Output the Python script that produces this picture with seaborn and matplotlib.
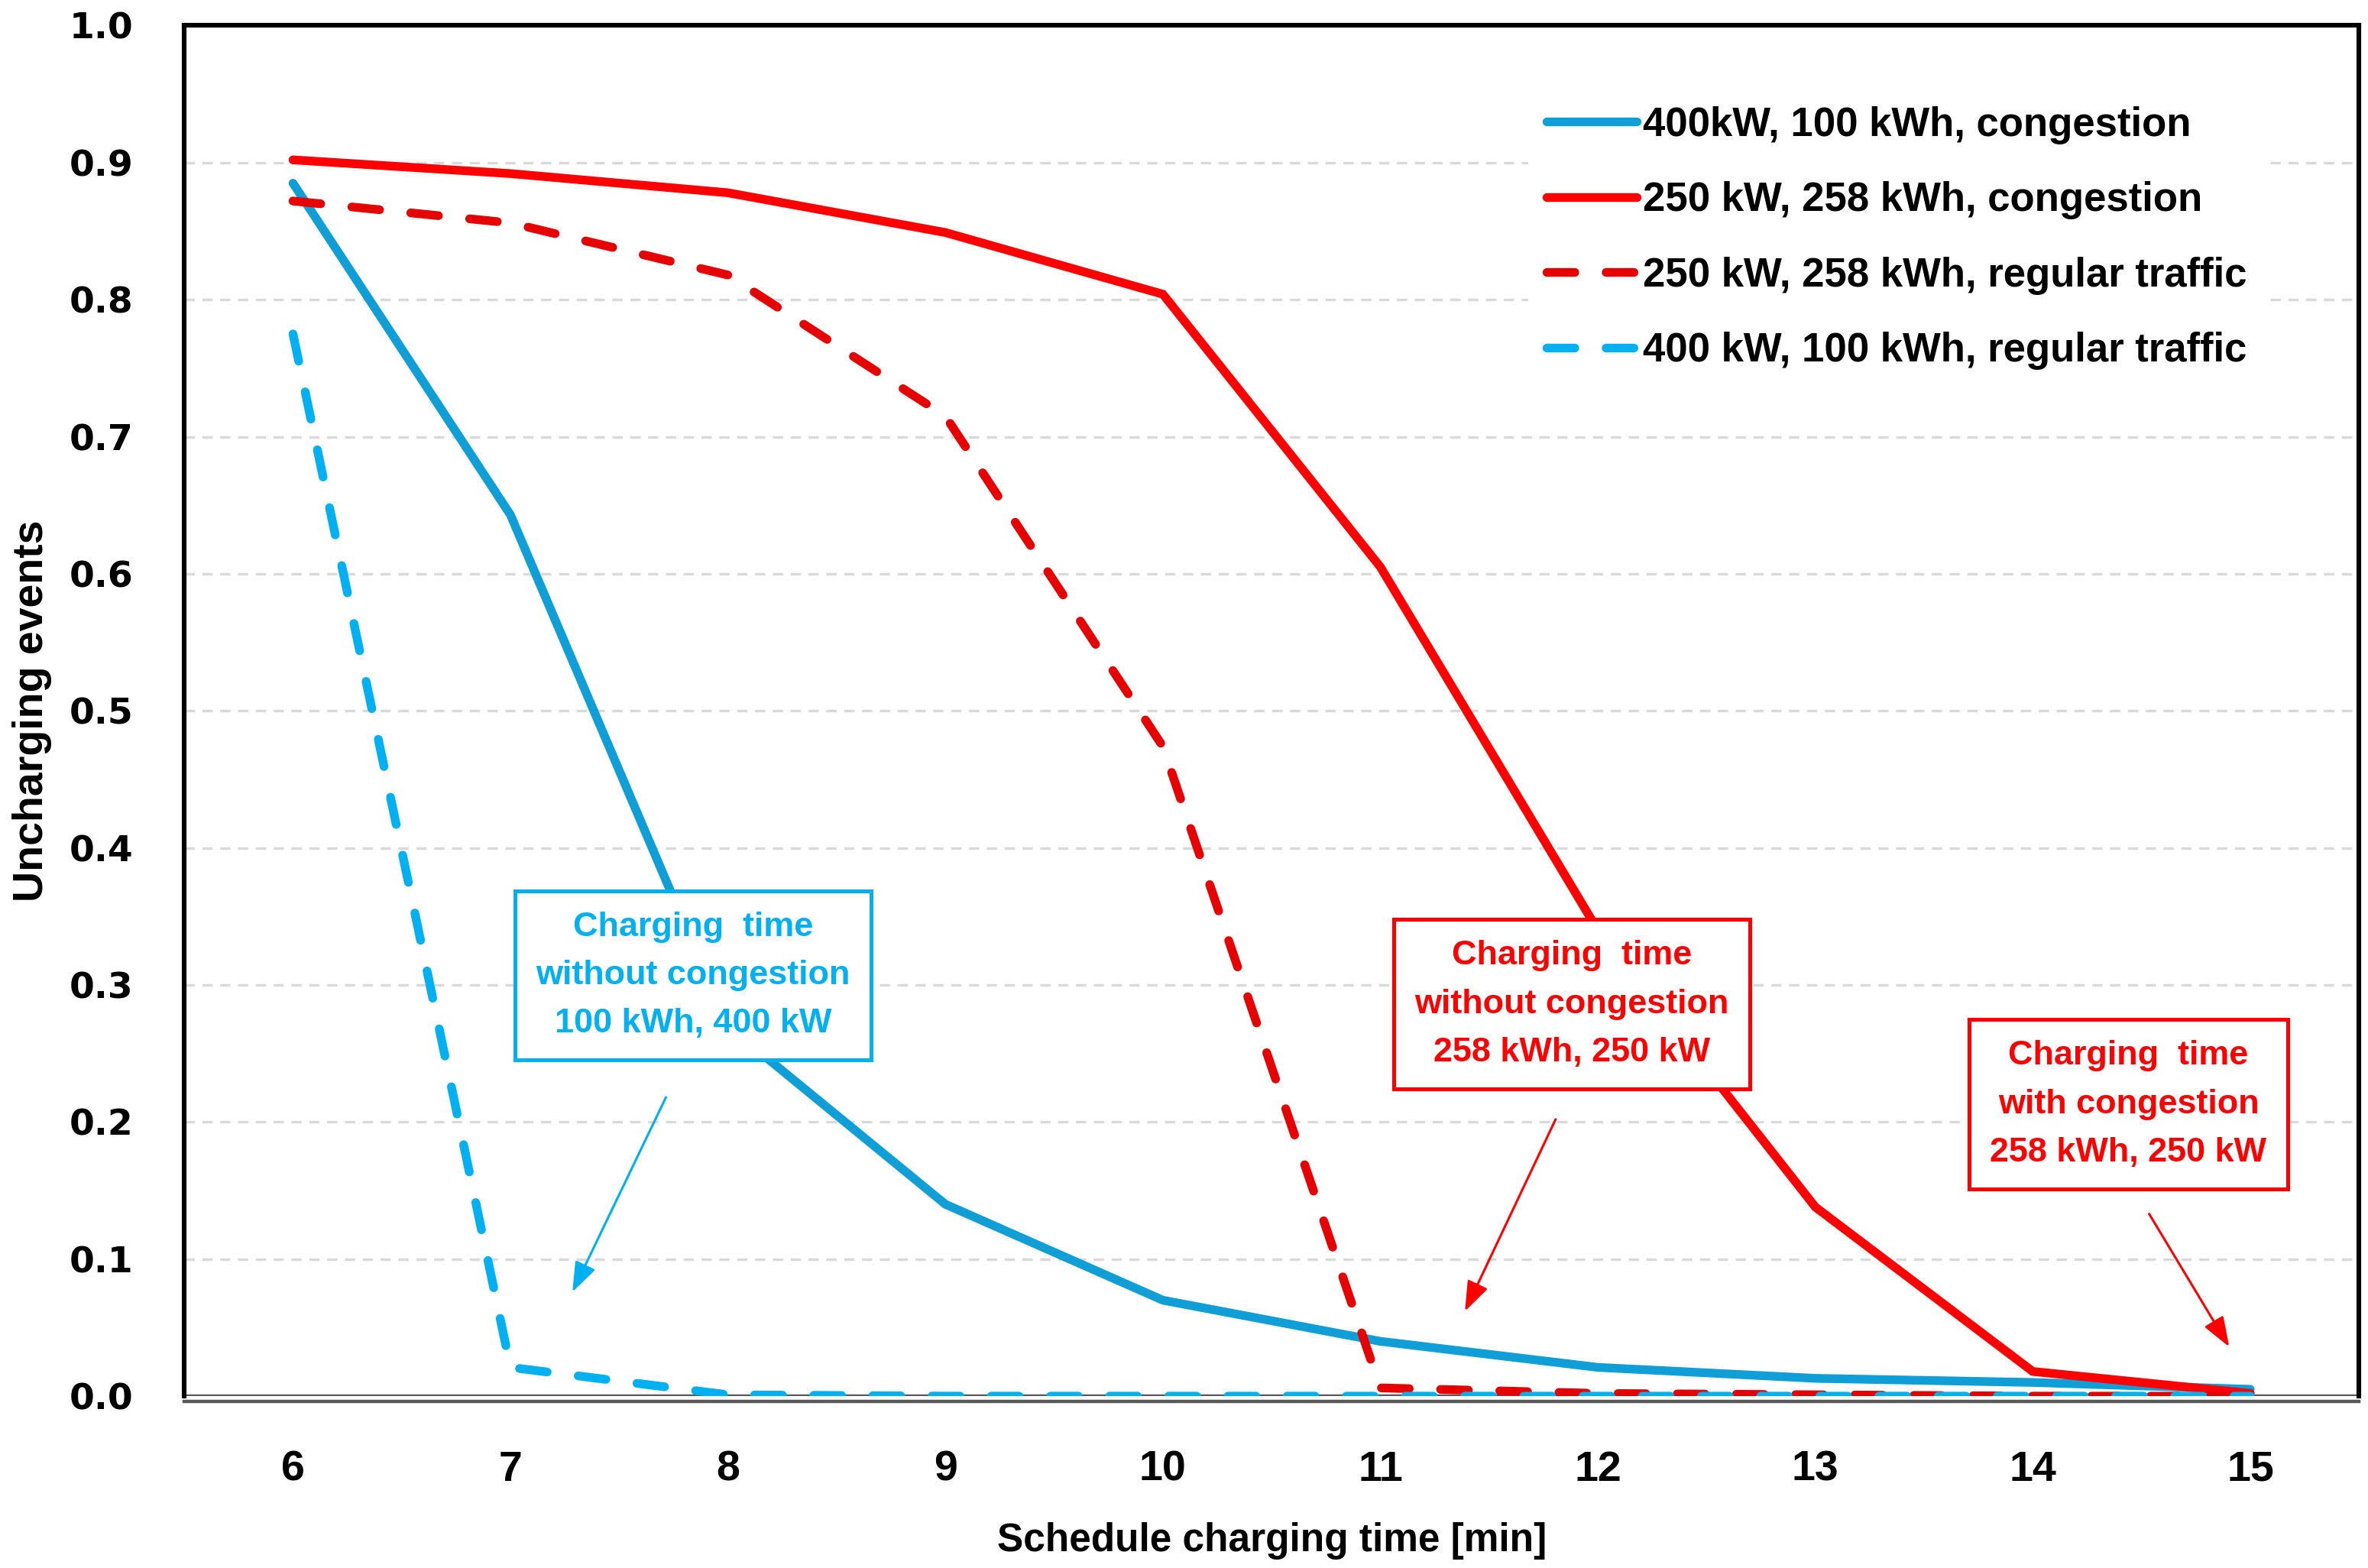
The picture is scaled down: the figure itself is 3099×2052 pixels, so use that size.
import matplotlib
matplotlib.use("Agg")
import pandas as pd
import matplotlib.pyplot as plt
import seaborn as sns

# ─────────────────────────────
#  DATA
# ─────────────────────────────
sched_time = [6, 7, 8, 9, 10, 11, 12, 13, 14, 15]

blue_cong = [0.885, 0.643, 0.270, 0.140, 0.070, 0.040, 0.021, 0.013, 0.010, 0.005]
red_cong  = [0.902, 0.892, 0.878, 0.849, 0.804, 0.605, 0.340, 0.138, 0.018, 0.002]
red_reg   = [0.872, 0.856, 0.818, 0.715, 0.474, 0.006, 0.002, 0.001, 0.000, 0.000]
blue_reg  = [0.775, 0.021, 0.001, 0.000, 0.000, 0.000, 0.000, 0.000, 0.000, 0.000]

labels = ["400kW, 100 kWh, congestion",
          "250 kW, 258 kWh, congestion",
          "250 kW, 258 kWh, regular traffic",
          "400 kW, 100 kWh, regular traffic"]

y_ticks = [0.0, 0.1, 0.2, 0.3, 0.4, 0.5, 0.6, 0.7, 0.8, 0.9, 1.0]

# ─────────────────────────────
#  STYLE
# ─────────────────────────────
sns.set_theme(style="white")
plt.rcParams["font.family"] = ["Liberation Sans", "DejaVu Sans"]
plt.rcParams["text.color"] = "black"
plt.rcParams["axes.labelcolor"] = "black"
plt.rcParams["xtick.color"] = "black"
plt.rcParams["ytick.color"] = "black"

BLUE   = "#0F9ED5"
LBLUE  = "#00B0F0"
RED    = "#FF0000"
DRED   = "#E60000"
LW     = 4.1
DASH   = (0, (3.2, 3.6))

styles = [(BLUE, "-"), (RED, "-"), (DRED, DASH), (LBLUE, DASH)]
values = [blue_cong, red_cong, red_reg, blue_reg]

fig = plt.figure(figsize=(15.495, 10.26), dpi=200)
ax = fig.add_axes([0.0778, 0.1096, 0.9184, 0.8741])

for vals, (col, ls), lab in zip(values, styles, labels):
    df = pd.DataFrame({"t": sched_time, "v": vals})
    sns.lineplot(data=df, x="t", y="v", ax=ax, color=col, lw=LW, label=lab, zorder=3)
    ln = ax.lines[-1]
    ln.set_linestyle(ls)
    ln.set_dash_capstyle("round")
    ln.set_solid_capstyle("round")
    ln.set_solid_joinstyle("miter")

# axes frame (spine position first: it resets the ticks)
for side in ["left", "top", "right"]:
    ax.spines[side].set_color("black")
    ax.spines[side].set_linewidth(2.2)
ax.spines["bottom"].set_color("#595959")
ax.spines["bottom"].set_linewidth(1.6)
ax.spines["bottom"].set_position(("outward", 2.5))
ax.axhline(0, color="#595959", lw=1.6, zorder=2)

ax.set_xlim(5.5, 15.5)
ax.set_ylim(0, 1.0)
ax.set_xticks(sched_time)
ax.set_yticks(y_ticks)
ax.set_yticklabels([f"{v:.1f}" for v in y_ticks],
                   fontfamily="DejaVu Sans", fontweight="bold", fontsize=17)
ax.set_xticklabels([str(t) for t in sched_time],
                   fontfamily="Liberation Sans", fontweight="bold", fontsize=20)
ax.tick_params(axis="both", length=0)
ax.tick_params(axis="y", pad=24)
ax.tick_params(axis="x", pad=23)

ax.yaxis.grid(True, color="#D9D9D9", linestyle=(0, (4, 3)), lw=1.2, zorder=0)
ax.set_axisbelow(True)

ax.set_xlabel("Schedule charging time [min]", fontsize=18.5, fontweight="bold", labelpad=15)
ax.set_ylabel("Uncharging events", fontsize=20, fontweight="bold", labelpad=8)

# legend
leg = ax.legend(loc="upper left", bbox_to_anchor=(0.618, 0.9545),
                frameon=True, facecolor="white", edgecolor="none", framealpha=1,
                prop={"family": "Liberation Sans", "weight": "bold", "size": 19},
                handlelength=2.24, handletextpad=0.15, labelspacing=0.92,
                borderpad=0.45, borderaxespad=0)
leg.set_zorder(6)
for h in leg.get_lines():
    h.set_linewidth(LW)
for t in leg.get_texts():
    t.set_color("black")

# annotation boxes with arrows
notes = [
    ("Charging  time\nwithout congestion\n100 kWh, 400 kW", LBLUE, (7.84, 0.307),
     (7.715, 0.218), (7.285, 0.076)),
    ("Charging  time\nwithout congestion\n258 kWh, 250 kW", RED, (11.88, 0.286),
     (11.806, 0.202), (11.389, 0.062)),
    ("Charging  time\nwith congestion\n258 kWh, 250 kW", RED, (14.44, 0.213),
     (14.535, 0.133), (14.903, 0.036)),
]
for txt, col, xy_box, xy_from, xy_to in notes:
    ax.text(*xy_box, txt, color=col, ha="center", va="center", fontsize=16.2,
            fontweight="bold", linespacing=1.7, zorder=5,
            bbox=dict(boxstyle="square,pad=0.6", facecolor="white",
                      edgecolor=col, linewidth=1.8))
    ax.annotate("", xy=xy_to, xytext=xy_from, zorder=5,
                arrowprops=dict(arrowstyle="-|>,head_length=0.6,head_width=0.22",
                                color=col, lw=1.1, mutation_scale=20,
                                shrinkA=0, shrinkB=0))

plt.savefig("out.png", dpi=200, facecolor="white")
